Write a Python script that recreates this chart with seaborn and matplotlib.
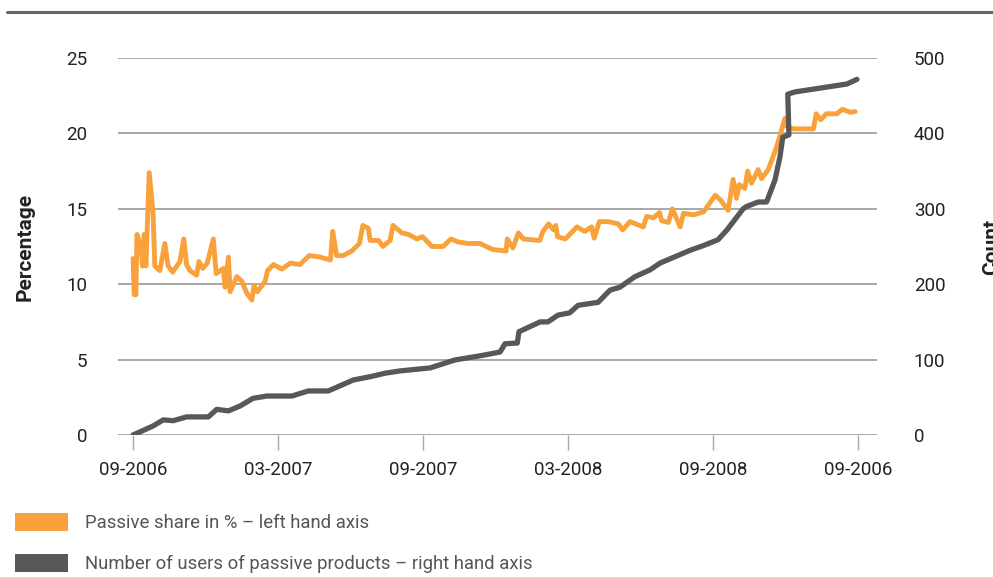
import matplotlib
matplotlib.use("Agg")
import matplotlib.pyplot as plt
from matplotlib.lines import Line2D
from matplotlib.patches import Patch
import seaborn as sns

# ---- data (x in weeks since 09-2006) ----
share_week = [0.0, 0.2, 0.5, 0.7, 1.4, 1.7, 2.0, 2.3, 2.9, 3.6, 3.9, 4.8, 5.7, 6.3, 7.1, 8.4, 9.1, 9.6,
              10.2, 11.4, 11.8, 12.5, 13.3, 14.4, 14.9, 16.2, 16.5, 17.1, 17.4, 18.6, 19.5, 20.4, 21.3,
              21.7, 22.3, 23.7, 24.1, 25.2, 26.7, 28.2, 29.9, 31.6, 33.5, 35.4, 35.8, 36.5, 37.7, 39.2,
              40.6, 41.2, 42.2, 42.5, 44.0, 44.8, 46.1, 46.6, 48.2, 49.4, 50.9, 51.9, 53.6, 55.6, 57.0,
              58.3, 60.1, 62.2, 64.5, 66.9, 67.1, 68.1, 69.1, 70.0, 72.9, 73.5, 74.5, 75.4, 75.8, 76.1,
              77.5, 79.6, 81.0, 82.2, 82.7, 83.6, 85.2, 87.0, 87.8, 89.1, 91.5, 92.1, 93.3, 94.4, 94.8,
              96.0, 96.7, 98.1, 98.7, 100.5, 102.3, 104.4, 105.3, 106.7, 107.6, 108.2, 108.7, 109.7,
              110.2, 110.9, 112.1, 112.7, 113.9, 115.4, 116.9, 117.3, 118.4, 122.0, 122.5, 123.3, 124.3,
              126.2, 127.2, 128.6, 129.5]
share_pct = [11.7, 9.3, 9.3, 13.3, 12.5, 11.2, 13.3, 11.2, 17.4, 14.6, 11.2, 10.9, 12.7, 11.2, 10.8, 11.5,
             13.0, 11.3, 10.9, 10.6, 11.5, 11.05, 11.4, 13.0, 10.7, 11.05, 9.8, 11.8, 9.5, 10.5, 10.2, 9.4,
             8.95, 9.9, 9.5, 10.2, 10.9, 11.3, 11.0, 11.4, 11.3, 11.9, 11.8, 11.6, 13.5, 11.9, 11.9, 12.2,
             12.7, 13.9, 13.7, 12.9, 12.9, 12.5, 12.9, 13.9, 13.4, 13.3, 13.0, 13.15, 12.5, 12.5, 13.0,
             12.8, 12.7, 12.7, 12.3, 12.2, 13.0, 12.4, 13.4, 13.0, 12.9, 13.5, 14.0, 13.6, 13.9, 13.15,
             13.0, 13.8, 13.5, 13.8, 13.05, 14.15, 14.15, 14.0, 13.6, 14.15, 13.8, 14.5, 14.4, 14.75, 14.2,
             14.1, 15.0, 13.8, 14.7, 14.6, 14.8, 15.9, 15.6, 14.9, 16.95, 15.7, 16.6, 16.35, 17.5, 16.7,
             17.6, 17.0, 17.6, 19.1, 21.0, 20.45, 20.3, 20.3, 21.3, 20.9, 21.3, 21.3, 21.6, 21.4, 21.45]

users_week = [0.0, 1.8, 3.6, 5.4, 7.2, 9.6, 13.5, 15.0, 17.1, 19.2, 21.5, 24.0, 28.5, 31.4, 35.0, 39.5,
              42.5, 45.2, 47.9, 53.3, 57.7, 62.2, 65.8, 66.7, 68.9, 69.2, 73.0, 74.4, 76.2, 78.3, 79.8,
              83.4, 85.5, 87.3, 90.0, 92.7, 94.5, 99.9, 102.2, 104.9, 106.5, 109.4, 110.0, 112.1, 113.6,
              115.1, 116.0, 116.5, 117.6, 117.4, 118.7, 128.0, 129.8]
users_count = [0, 6, 12, 20, 19, 24, 24, 34, 32, 38.5, 48.6, 51.7, 51.7, 58.4, 58.4, 73, 77.3, 82, 85, 89,
               99.5, 105, 110, 121, 122, 137, 150, 150, 159, 162, 172, 176, 192, 196, 210, 219, 228, 245,
               251, 259, 272, 300, 303, 309, 309, 338, 369, 395, 398, 452, 455, 465.5, 471.7]

tick_weeks = [0, 26, 52, 78, 104, 130]
tick_labels = ["09-2006", "03-2007", "09-2007", "03-2008", "09-2008", "09-2006"]
left_ticks = [0, 5, 10, 15, 20, 25]
right_ticks = [0, 100, 200, 300, 400, 500]
legend_labels = ["Passive share in % \u2013 left hand axis",
                 "Number of users of passive products \u2013 right hand axis"]

ORANGE = "#F9A13A"
DARK = "#58585A"
GRID = "#A8A8A8"
TXT = "#222222"

sns.set_theme(style="white")
plt.rcParams["font.family"] = ["Roboto", "DejaVu Sans"]

fig = plt.figure(figsize=(9.93, 5.77), dpi=100)
ax = fig.add_axes([118 / 993, 1 - 435 / 577, (877 - 118) / 993, (435 - 58) / 577])
ax2 = ax.twinx()

sns.lineplot(x=share_week, y=share_pct, ax=ax, color=ORANGE, linewidth=3.5,
             estimator=None, sort=False)
sns.lineplot(x=users_week, y=users_count, ax=ax2, color=DARK, linewidth=3.8,
             estimator=None, sort=False)

for a in (ax, ax2):
    for s in a.spines.values():
        s.set_visible(False)
    a.set_xlim(-2.7, 133.4)

ax.set_ylim(0, 25)
ax2.set_ylim(0, 500)
ax.set_yticks(left_ticks)
ax2.set_yticks(right_ticks)
ax.set_xticks(tick_weeks, tick_labels)

ax.yaxis.grid(True, color=GRID, linewidth=1.4)
ax.xaxis.grid(False)
ax2.grid(False)
ax.set_axisbelow(True)

ax.tick_params(axis="x", length=11, width=1, color=GRID, pad=8, labelsize=13.5, labelcolor=TXT,
               bottom=True)
ax.tick_params(axis="y", length=0, pad=22, labelsize=13.5, labelcolor=TXT)
ax2.tick_params(axis="y", length=0, pad=26.5, labelsize=13.5, labelcolor=TXT)

ax.set_ylabel("Percentage", fontsize=15, fontweight="bold", color=TXT)
ax.yaxis.set_label_coords((35 - 118) / 759, 0.5)
ax2.set_ylabel("Count", fontsize=15, fontweight="bold", color=TXT)
ax2.yaxis.set_label_coords((982 - 118) / 759, 0.5)
ax.set_xlabel("")

# top rule
fig.add_artist(Line2D([7 / 993, 1.0], [1 - 11.5 / 577] * 2, color="#666666", linewidth=2.2))

handles = [Patch(facecolor=ORANGE, edgecolor="none"), Patch(facecolor=DARK, edgecolor="none")]
leg = fig.legend(handles, legend_labels, loc="upper left", bbox_to_anchor=(15 / 993, 1 - 513 / 577),
                 frameon=False, fontsize=13.3, handlelength=2.87, handleheight=1.1,
                 handletextpad=0.9, labelspacing=1.2, borderaxespad=0, borderpad=0)
for t in leg.get_texts():
    t.set_color("#555555")

fig.savefig("out.png", dpi=100)
